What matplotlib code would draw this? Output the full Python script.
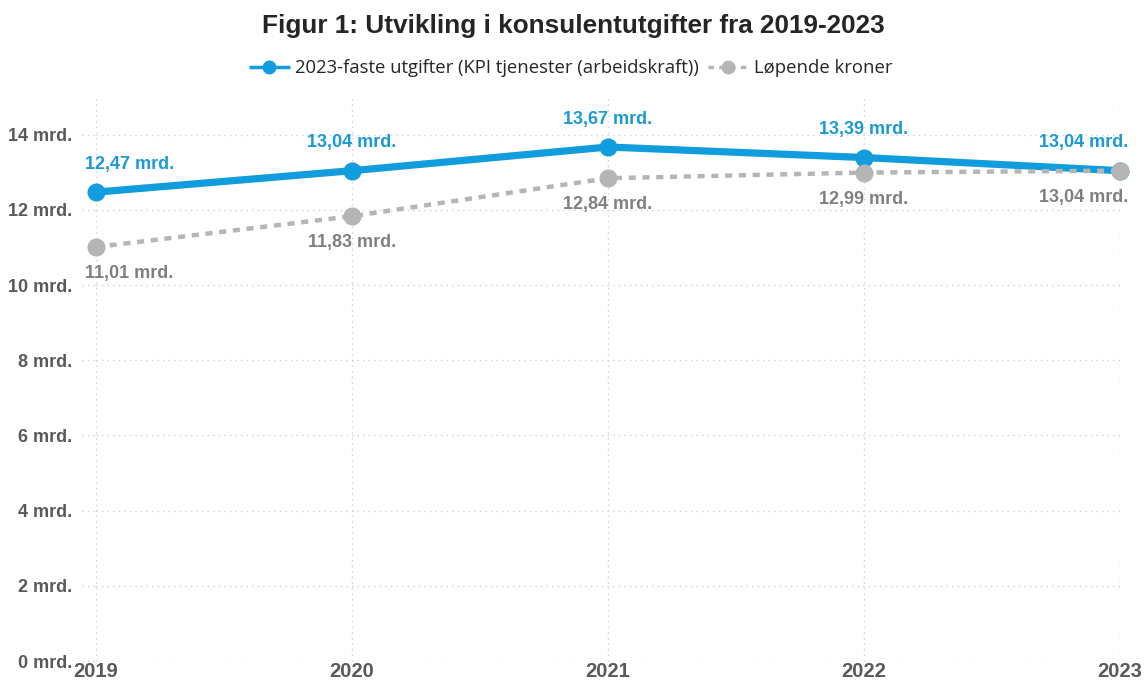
import matplotlib
matplotlib.use("Agg")
import matplotlib.pyplot as plt
from matplotlib.transforms import blended_transform_factory

years = [2019, 2020, 2021, 2022, 2023]
faste = [12.47, 13.04, 13.67, 13.39, 13.04]
lopende = [11.01, 11.83, 12.84, 12.99, 13.04]
yticks = [0, 2, 4, 6, 8, 10, 12, 14]
title = "Figur 1: Utvikling i konsulentutgifter fra 2019-2023"
label_faste = "2023-faste utgifter (KPI tjenester (arbeidskraft))"
label_lopende = "Løpende kroner"

BLUE = "#119CDD"
GRAY = "#B5B5B5"
BLUE_TXT = "#1B9AD6"
GRAY_TXT = "#808080"
TICK_TXT = "#595959"

def fmt(v):
    return f"{v:.2f}".replace(".", ",") + " mrd."

fig = plt.figure(figsize=(11.44, 6.84), dpi=100)
ax = fig.add_axes([96/1144, 23/684, (1120-96)/1144, (661-97)/684])

ax.plot(years, faste, color=BLUE, lw=5.2, marker="o", ms=12, solid_capstyle="butt",
        label=label_faste, zorder=3, clip_on=False)
ax.plot(years, lopende, color=GRAY, lw=3.2, ls=(0, (1.6, 1.5)), marker="o", ms=12,
        label=label_lopende, zorder=4, clip_on=False)

n = len(years)
def align(i):
    if i == 0:
        return "left", -8
    if i == n - 1:
        return "right", 6
    return "center", 0

for i, (x, v) in enumerate(zip(years, faste)):
    ha, dx = align(i)
    ax.annotate(fmt(v), (x, v), xytext=(dx, 14), textcoords="offset points",
                ha=ha, va="bottom", color=BLUE_TXT, fontsize=13, fontweight="bold",
                family="Liberation Sans", zorder=5)
for i, (x, v) in enumerate(zip(years, lopende)):
    ha, dx = align(i)
    ax.annotate(fmt(v), (x, v), xytext=(dx, -13), textcoords="offset points",
                ha=ha, va="top", color=GRAY_TXT, fontsize=13, fontweight="bold",
                family="Liberation Sans", zorder=5)

ax.set_xlim(2019, 2023)
ax.set_ylim(0, 15)
ax.set_xticks(years)
ax.set_xticklabels([str(y) for y in years], fontsize=14.5, fontweight="bold",
                   color=TICK_TXT, family="Liberation Sans")
ax.set_yticks(yticks)
ax.set_yticklabels([f"{t} mrd." for t in yticks], fontsize=13, fontweight="bold",
                   color=TICK_TXT, family="Liberation Sans")
ax.tick_params(axis="both", length=0)
ax.tick_params(axis="y", pad=17)
ax.tick_params(axis="x", pad=1)

ax.grid(True, color="#D0D0D0", ls=(0, (1, 3)), lw=1)
ax.set_axisbelow(True)
for s in ax.spines.values():
    s.set_visible(False)

trans = blended_transform_factory(fig.transFigure, ax.transData)
for t in yticks:
    ax.plot([82/1144, 96/1144], [t, t], transform=trans, color="#D0D0D0",
            ls=(0, (1, 3)), lw=1, clip_on=False, zorder=0)

fig.text(0.501, 1 - 26/684, title, ha="center", va="center", fontsize=18.8,
         fontweight="bold", color="#252525", family="Liberation Sans")

leg = fig.legend(loc="center", bbox_to_anchor=(0.499, 1 - 68/684), ncol=2, frameon=False,
                 prop={"family": "Open Sans", "size": 13.3}, handlelength=2.2,
                 columnspacing=0.5, handletextpad=0.3)
for h in leg.legend_handles:
    h.set_markersize(9)
    h.set_linewidth(2.5)
for txt in leg.get_texts():
    txt.set_color("#252525")

fig.savefig("out.png", dpi=100)
